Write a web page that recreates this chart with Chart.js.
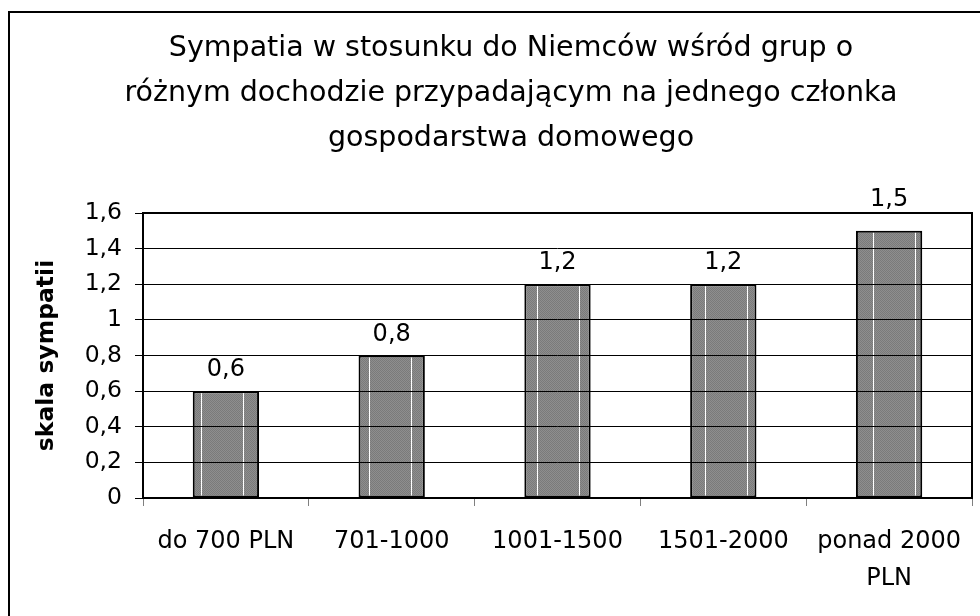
<!DOCTYPE html>
<html>
<head>
<meta charset="utf-8">
<script src="https://cdn.jsdelivr.net/npm/chart.js@4.4.0/dist/chart.umd.min.js"></script>
<style>
html,body{margin:0;padding:0;background:#fff;}
#wrap{width:980px;height:616px;position:relative;}
</style>
</head>
<body>
<div id="wrap"><canvas id="c" width="980" height="616"></canvas></div>
<script>
const titleLines = ['Sympatia w stosunku do Niemców wśród grup o', 'różnym dochodzie przypadającym na jednego członka', 'gospodarstwa domowego'];
const categories = ['do 700 PLN', '701-1000', '1001-1500', '1501-2000', ['ponad 2000', 'PLN']];
const values = [0.6, 0.8, 1.2, 1.2, 1.5];
const yAxisTitle = 'skala sympatii';
const yMin = 0, yMax = 1.6, yStep = 0.2;

const FONT = "'DejaVu Sans', 'Liberation Sans', Arial, sans-serif";
const fmt = v => String(Number(v.toFixed(1))).replace('.', ',');

// bar fill pattern: fine grey checker with periodic white vertical lines
const pc = document.createElement('canvas');
pc.width = 42; pc.height = 2;
const pctx = pc.getContext('2d');
for (let x = 0; x < 42; x++) {
  for (let y = 0; y < 2; y++) {
    pctx.fillStyle = ((x + y) % 2 === 0) ? '#7a7a7a' : '#8e8e8e';
    pctx.fillRect(x, y, 1, 1);
  }
}
pctx.fillStyle = '#ffffff';
pctx.fillRect(33, 0, 1, 2);
const ctx0 = document.getElementById('c').getContext('2d');
const barPattern = ctx0.createPattern(pc, 'repeat');

const framePlugin = {
  id: 'frame',
  beforeDraw(chart) {
    const ctx = chart.ctx;
    ctx.save();
    ctx.fillStyle = '#fff';
    ctx.fillRect(0, 0, chart.width, chart.height);
    ctx.strokeStyle = '#000';
    ctx.lineWidth = 2;
    ctx.strokeRect(9, 12, chart.width + 20, chart.height + 20);
    ctx.restore();
  },
  afterDraw(chart) {
    const a = chart.chartArea;
    const ctx = chart.ctx;
    ctx.save();
    ctx.strokeStyle = '#000';
    ctx.lineWidth = 2;
    ctx.strokeRect(a.left, a.top, a.right - a.left, a.bottom - a.top);
    ctx.restore();
  }
};

const labelPlugin = {
  id: 'valueLabels',
  afterDatasetsDraw(chart) {
    const ctx = chart.ctx;
    const meta = chart.getDatasetMeta(0);
    const top = chart.chartArea.top;
    ctx.save();
    ctx.font = '24px ' + FONT;
    ctx.fillStyle = '#000';
    ctx.textAlign = 'center';
    ctx.textBaseline = 'middle';
    meta.data.forEach((bar, i) => {
      const y = Math.min(bar.y - 21, top - 13);
      ctx.fillText(fmt(chart.data.datasets[0].data[i]), bar.x, bar.y - 21 < top + 8 ? y : bar.y - 21);
    });
    ctx.restore();
  }
};

new Chart(document.getElementById('c'), {
  type: 'bar',
  data: {
    labels: categories,
    datasets: [{
      data: values,
      backgroundColor: barPattern,
      borderColor: '#000',
      borderWidth: 2,
      borderSkipped: false,
      barPercentage: 0.4,
      categoryPercentage: 1
    }]
  },
  options: {
    responsive: false,
    animation: false,
    devicePixelRatio: 1,
    layout: { padding: { left: 50, right: 8, top: 0, bottom: 0 } },
    plugins: {
      legend: { display: false },
      tooltip: { enabled: false },
      title: {
        display: true,
        text: titleLines,
        color: '#000',
        font: { family: FONT, size: 28.5, weight: 'normal', lineHeight: 45 / 28.5 },
        padding: { top: 26.5, bottom: 51.5 }
      }
    },
    scales: {
      x: {
        grid: { offset: true, drawOnChartArea: false, drawTicks: true, tickLength: 8, color: '#808080', lineWidth: 1 },
        border: { display: false },
        ticks: { color: '#000', padding: 17, maxRotation: 0, autoSkip: false,
          font: { family: FONT, size: 24, lineHeight: 37 / 24 } },
        afterFit(scale) { scale.height = 118; }
      },
      y: {
        min: yMin, max: yMax,
        grid: { color: '#000', lineWidth: 1, tickLength: 8, z: 1 },
        border: { display: false },
        ticks: { stepSize: yStep, color: '#000', padding: 13,
          font: { family: FONT, size: 23.5 },
          callback: v => fmt(v) },
        title: { display: true, text: yAxisTitle, color: '#000',
          font: { family: FONT, size: 23.5, weight: 'bold' },
          padding: { top: -17, bottom: 0 } },
        afterFit(scale) { scale.width = 93; }
      }
    }
  },
  plugins: [framePlugin, labelPlugin]
});
</script>
</body>
</html>
